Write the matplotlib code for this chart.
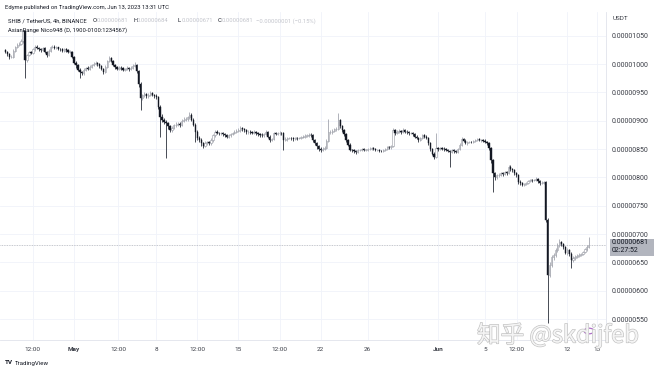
import matplotlib

matplotlib.use("Agg")
import matplotlib.pyplot as plt
import matplotlib.patheffects as pe
import numpy as np
from matplotlib.patches import Circle, Rectangle

plt.rcParams["font.family"] = ["Roboto", "Noto Sans CJK SC", "DejaVu Sans"]

# SHIB/USDT 4h candles, prices in units of 1e-8 USDT
first_open = 1025
closes = [
    1022, 1018, 1012, 1013, 1024, 1030, 1034, 1036, 1040, 1058,
    1008, 1016, 1022, 1020, 1026, 1031, 1029, 1027, 1025, 1028,
    1022, 1016, 1024, 1030, 1031, 1028, 1030, 1027, 1026, 1024,
    1026, 1025, 1022, 1022, 1012, 1002, 998, 990, 986, 984,
    990, 993, 992, 995, 998, 1000, 1002, 1000, 996, 992,
    986, 995, 1005, 1011, 1005, 999, 995, 992, 994, 993,
    990, 992, 993, 991, 994, 997, 999, 988, 965, 940,
    945, 947, 944, 946, 949, 946, 944, 942, 925, 907,
    902, 898, 896, 890, 884, 888, 892, 893, 895, 893,
    900, 902, 903, 906, 910, 902, 893, 880, 870, 866,
    860, 856, 861, 862, 860, 866, 874, 880, 879, 878,
    878, 876, 874, 872, 874, 876, 878, 880, 882, 884,
    887, 885, 883, 880, 881, 880, 879, 880, 878, 876,
    875, 874, 876, 880, 872, 866, 868, 878, 877, 878,
    879, 878, 866, 868, 869, 870, 869, 868, 870, 869,
    870, 871, 872, 873, 874, 875, 874, 866, 861, 855,
    850, 849, 851, 852, 865, 880, 880, 882, 885, 886,
    902, 890, 884, 876, 866, 858, 849, 848, 846, 845,
    848, 849, 850, 849, 849, 850, 851, 852, 850, 848,
    849, 847, 846, 848, 850, 854, 853, 855, 884, 878,
    880, 882, 880, 884, 881, 880, 878, 879, 876, 872,
    870, 866, 870, 875, 872, 870, 860, 850, 842, 836,
    852, 850, 852, 851, 850, 849, 847, 845, 848, 846,
    845, 850, 858, 868, 865, 861, 862, 863, 862, 864,
    866, 867, 866, 866, 865, 863, 860, 852, 830, 808,
    800, 804, 804, 808, 806, 810, 808, 819, 815, 813,
    808, 804, 792, 790, 787, 789, 790, 793, 796, 795,
    796, 797, 794, 790, 791, 792, 725, 628, 645, 660,
    663, 672, 681, 686, 682, 677, 667, 672, 665, 654,
    658, 660, 662, 663, 665, 668, 673, 677, 681,
]
highs = [
    1027, 1024, 1019, 1016, 1026, 1032, 1037, 1039, 1044, 1062,
    1060, 1018, 1024, 1024, 1028, 1034, 1033, 1030, 1028, 1030,
    1030, 1024, 1026, 1032, 1034, 1033, 1032, 1031, 1029, 1028,
    1028, 1029, 1027, 1025, 1024, 1014, 1005, 1000, 993, 988,
    993, 995, 996, 998, 1001, 1003, 1006, 1004, 1002, 998,
    994, 998, 1008, 1014, 1013, 1007, 1001, 997, 997, 996,
    995, 994, 996, 995, 997, 1000, 1003, 1001, 990, 968,
    948, 950, 949, 949, 953, 951, 948, 947, 944, 928,
    912, 905, 901, 898, 893, 891, 895, 897, 898, 898,
    903, 906, 906, 909, 915, 913, 905, 896, 883, 873,
    869, 863, 864, 865, 864, 869, 877, 883, 883, 881,
    881, 880, 879, 876, 877, 879, 881, 883, 885, 887,
    890, 889, 887, 885, 884, 883, 882, 883, 882, 880,
    879, 878, 879, 883, 882, 874, 870, 881, 880, 881,
    882, 881, 880, 871, 871, 872, 872, 871, 872, 872,
    872, 873, 874, 876, 877, 878, 878, 876, 868, 863,
    857, 853, 854, 855, 868, 903, 883, 885, 888, 889,
    913, 904, 892, 886, 878, 868, 860, 851, 850, 849,
    850, 851, 852, 852, 851, 852, 853, 854, 854, 852,
    851, 851, 849, 850, 852, 856, 856, 857, 887, 886,
    883, 885, 884, 887, 886, 883, 882, 881, 881, 878,
    874, 872, 872, 877, 877, 874, 872, 862, 852, 844,
    878, 854, 854, 854, 853, 852, 851, 849, 850, 850,
    848, 852, 860, 871, 870, 867, 864, 865, 865, 866,
    868, 869, 869, 868, 868, 867, 865, 862, 854, 832,
    810, 806, 807, 810, 810, 812, 812, 822, 822, 817,
    815, 810, 806, 795, 792, 791, 792, 795, 798, 798,
    798, 800, 799, 796, 793, 794, 794, 728, 650, 663,
    666, 675, 684, 692, 688, 684, 679, 675, 674, 668,
    661, 663, 664, 666, 667, 670, 676, 680, 695,
]
lows = [
    1020, 1015, 1009, 1010, 1011, 1022, 1028, 1032, 1034, 1038,
    975, 1004, 1014, 1017, 1018, 1024, 1026, 1024, 1022, 1023,
    1020, 1013, 1014, 1022, 1028, 1026, 1026, 1025, 1023, 1021,
    1022, 1022, 1020, 1019, 1010, 1000, 994, 987, 975, 980,
    981, 988, 989, 990, 993, 996, 998, 997, 993, 989,
    983, 984, 993, 1003, 1003, 997, 992, 989, 990, 990,
    987, 988, 990, 988, 989, 992, 995, 985, 960, 919,
    936, 942, 941, 941, 944, 943, 940, 938, 920, 872,
    898, 894, 834, 886, 880, 881, 885, 889, 890, 889,
    890, 897, 899, 900, 904, 899, 890, 863, 866, 862,
    856, 852, 853, 858, 857, 857, 863, 871, 876, 875,
    875, 873, 871, 869, 870, 872, 874, 876, 878, 880,
    881, 882, 880, 877, 877, 877, 876, 876, 875, 873,
    872, 871, 871, 874, 869, 863, 864, 866, 874, 874,
    875, 875, 849, 864, 865, 867, 866, 865, 866, 866,
    867, 868, 869, 870, 871, 872, 871, 863, 858, 851,
    847, 845, 847, 848, 850, 862, 876, 877, 880, 882,
    884, 887, 881, 873, 863, 855, 846, 845, 843, 842,
    843, 846, 847, 847, 846, 847, 848, 849, 848, 846,
    846, 845, 844, 844, 846, 848, 851, 851, 853, 875,
    876, 878, 877, 878, 879, 877, 875, 876, 873, 869,
    867, 863, 864, 868, 869, 867, 857, 847, 839, 833,
    834, 847, 848, 848, 847, 846, 844, 819, 843, 843,
    843, 843, 848, 856, 863, 859, 858, 860, 860, 860,
    862, 864, 864, 863, 863, 861, 858, 849, 826, 774,
    796, 798, 801, 802, 803, 804, 805, 806, 812, 810,
    805, 801, 789, 786, 784, 785, 786, 788, 792, 792,
    793, 793, 791, 787, 788, 789, 722, 543, 625, 641,
    655, 660, 669, 678, 679, 674, 664, 663, 662, 640,
    651, 655, 657, 659, 661, 663, 666, 670, 675,
]
last_price = 681
price_ticks = [550, 600, 650, 700, 750, 800, 850, 900, 950, 1000, 1050]
# time axis in days from May 1 00:00, first candle at Apr 25 02:00
first_candle_day = -35 / 6
time_tick_days = [-3.5, 0, 3.75, 7, 10.5, 14, 17.5, 21, 25, 31, 35, 37.7, 42, 44.5]
time_tick_labels = ["12:00", "May", "12:00", "8", "12:00", "15", "12:00",
                    "22", "26", "Jun", "5", "12:00", "12", "13"]

W, H = 660, 371
fig = plt.figure(figsize=(W / 100, H / 100), dpi=100)
fig.patch.set_facecolor("white")
ax = fig.add_axes([0, 31 / H, 606 / W, 328 / H])

c = np.array(closes, dtype=float)
o = np.r_[first_open, c[:-1]]
hi = np.array(highs, dtype=float)
lo = np.array(lows, dtype=float)
x = first_candle_day + np.arange(len(c)) / 6
up = c >= o

ax.vlines(x[up], lo[up], hi[up], color="#a3a6af", lw=0.6, zorder=2)
ax.vlines(x[~up], lo[~up], hi[~up], color="#2a2e39", lw=0.6, zorder=2)
body_lo = np.minimum(o, c)
body_h = np.maximum(np.abs(c - o), 0.8)
ax.bar(x[up], body_h[up], bottom=body_lo[up], width=0.11, color="white",
       edgecolor="#9598a1", lw=0.4, zorder=3)
ax.bar(x[~up], body_h[~up], bottom=body_lo[~up], width=0.11, color="#131722",
       edgecolor="#131722", lw=0.3, zorder=3)

ax.axhline(last_price, color="#b2b5be", lw=0.6, ls=(0, (1, 1)), zorder=1)

ax.set_xlim(-6.3, 45.3)
ax.set_ylim(513, 1092)
ax.set_yticks(price_ticks)
ax.set_yticklabels([f"{v * 1e-8:.8f}" for v in price_ticks])
ax.yaxis.tick_right()
ax.set_xticks(time_tick_days)
ax.set_xticklabels(time_tick_labels)
for lbl in ax.get_xticklabels():
    if lbl.get_text() in ("May", "Jun"):
        lbl.set_fontweight("bold")
ax.tick_params(axis="y", length=0, pad=4, labelsize=5.0, labelcolor="#3b3e47")
ax.tick_params(axis="x", length=0, pad=5, labelsize=4.6, labelcolor="#3b3e47")
ax.grid(color="#f0f3fa", lw=0.6, zorder=0)
ax.set_axisbelow(True)
for side in ("top", "left"):
    ax.spines[side].set_visible(False)
for side in ("right", "bottom"):
    ax.spines[side].set_color("#e0e3eb")
    ax.spines[side].set_linewidth(0.6)


def px(xp, yp):
    return xp / W, 1 - yp / H


# header
fig.text(*px(5, 7), "Edyme published on TradingView.com, Jun 13, 2023 13:31 UTC",
         fontsize=4.2, color="#131722", va="center")
fig.text(*px(8, 21), "SHIB / TetherUS, 4h, BINANCE", fontsize=4.2, color="#131722", va="center")
ohlc = [(93, "O", 97, "0.00000681"), (133, "H", 137, "0.00000684"),
        (178, "L", 182, "0.00000671"), (218, "C", 222, "0.00000681")]
for lx, letter, vx, val in ohlc:
    fig.text(*px(lx, 21), letter, fontsize=4.2, color="#131722", va="center")
    fig.text(*px(vx, 21), val, fontsize=4.2, color="#c3c5cc", va="center")
fig.text(*px(256, 21), "\u22120.00000001 (\u22120.15%)", fontsize=4.2, color="#c3c5cc", va="center")
fig.text(*px(8, 30), "AsianRange Nico948 (D, 1900-0100:1234567)", fontsize=4.2,
         color="#131722", va="center")

fig.text(*px(613, 18), "USDT", fontsize=4.6, color="#3b3e47", va="center")

# last price box
fig.add_artist(Rectangle(px(610, 256), 44 / W, 17 / H, transform=fig.transFigure,
                         facecolor="#b2b5be", edgecolor="none"))
fig.text(*px(612, 243), "0.00000681", fontsize=5.0, color="#131722", va="center")
fig.text(*px(612, 251), "02:27:52", fontsize=5.0, color="#131722", va="center")

# watermark
fig.text(*px(477, 335), "知乎 @skdijfeb", fontsize=17, color="#f4f4f4", va="center",
         family=["Noto Sans CJK SC", "DejaVu Sans"],
         path_effects=[pe.withStroke(linewidth=0.9, foreground="#c0c0c0")])
fig.add_artist(Circle(px(589, 331), 5 / W, transform=fig.transFigure,
                      facecolor="none", edgecolor="#b070c8", lw=0.9))

# footer logo
fig.text(*px(5, 363), "TV", fontsize=4.6, color="#131722", va="center", fontweight="bold")
fig.text(*px(15, 363), "TradingView", fontsize=4.4, color="#131722", va="center")

fig.savefig("out.png", dpi=100)
